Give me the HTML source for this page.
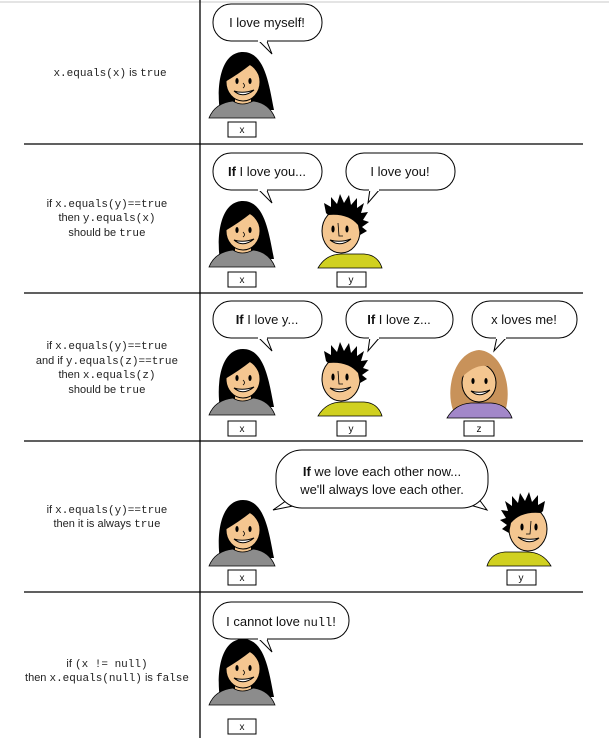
<!DOCTYPE html>
<html><head><meta charset="utf-8"><style>
html,body{margin:0;padding:0;background:#fff}
svg{display:block}
.t{font-family:"Liberation Sans",sans-serif;font-size:11px;fill:#222}
.m{font-family:"Liberation Mono",monospace;font-size:11px;fill:#222}
.b{font-family:"Liberation Sans",sans-serif;font-size:13px;fill:#111}
.lb{font-family:"Liberation Sans",sans-serif;font-size:10px;fill:#111}
</style></head><body>
<svg width="609" height="745" viewBox="0 0 609 745" xmlns="http://www.w3.org/2000/svg">
<defs>
<g id="girl">
 <path d="M11,62 C7,35 12,2 34,2 C56,2 60,35 65,60 L50,60 Z" fill="#000"/>
 <path d="M26,44 L26,55 Q33,58 42,54 L42,44 Z" fill="#f4c690"/>
 <path d="M0,68 Q6,53 24,51 Q33,57 44,51 Q60,53 66,68 Z" fill="#8c8c8c" stroke="#000" stroke-width=".8"/>
 <ellipse cx="34" cy="32" rx="17" ry="19" fill="#f4c690" stroke="#000"/>
 <path d="M15,32 Q15,6 34,5 Q53,6 53,32 Q47,18 41,15 Q31,23 16,32 Z" fill="#000"/>
 <ellipse cx="28" cy="31" rx="1.6" ry="3" fill="#000"/><ellipse cx="41" cy="31" rx="1.6" ry="3" fill="#000"/>
 <path d="M34,33 Q37,36 34,38" fill="none" stroke="#000" stroke-width=".8"/>
 <path d="M25,41 Q34,49 45,40 Q34,44 25,41 Z" fill="#fff" stroke="#000"/>
</g>
<g id="boy">
 <path d="M0,75 Q8,61 24,61 L46,61 Q60,62 64,75 Z" fill="#d0d020" stroke="#000" stroke-width=".8"/>
 <ellipse cx="23" cy="38" rx="19" ry="22" fill="#f4c690" stroke="#000"/>
 <path d="M8,20 L6,10 L13,14 L13,4 L19,11 L22,1 L26,10 L31,2 L33,12 L39,5 L39,15 L46,10 L43,20 L50,19 L45,27 L51,29 L44,34 L49,38 L42,42 L40,32 Q30,20 10,22 Z" fill="#000"/>
 <ellipse cx="15" cy="36" rx="1.6" ry="3.5" fill="#000"/><ellipse cx="29" cy="36" rx="1.6" ry="3.5" fill="#000"/>
 <path d="M20,30 L21,43 L25,43" fill="none" stroke="#000" stroke-width=".8"/>
 <path d="M12,47 Q22,55 33,46 Q22,50 12,47 Z" fill="#fff" stroke="#000"/>
</g>
<g id="woman">
 <path d="M6,62 C-2,40 8,4 32,2 C56,4 66,40 58,64 L40,60 Z" fill="#c8925a"/>
 <path d="M0,70 Q8,56 24,55 L44,55 Q60,56 65,70 Z" fill="#a287c9" stroke="#000" stroke-width=".8"/>
 <ellipse cx="32" cy="35" rx="17" ry="19" fill="#f4c690" stroke="#000"/>
 <path d="M14,30 Q16,8 32,8 Q48,8 50,30 Q46,18 40,18 Q28,16 14,30 Z" fill="#c8925a"/>
 <ellipse cx="26" cy="33" rx="1.6" ry="3" fill="#000"/><ellipse cx="39" cy="33" rx="1.6" ry="3" fill="#000"/>
 <path d="M24,43 Q33,51 43,42 Q33,46 24,43 Z" fill="#fff" stroke="#000"/>
</g>
</defs>

<!-- grid -->
<line x1="0" y1="2" x2="609" y2="2" stroke="#e4e4e4" stroke-width="2"/>
<line x1="200" y1="0" x2="200" y2="738" stroke="#000" stroke-width="1.3"/>
<g stroke="#000" stroke-width="1.3">
<line x1="24" y1="144" x2="583" y2="144"/>
<line x1="24" y1="293" x2="583" y2="293"/>
<line x1="24" y1="441" x2="583" y2="441"/>
<line x1="24" y1="592" x2="583" y2="592"/>
</g>

<!-- left text -->
<text x="110" y="76" text-anchor="middle"><tspan class="m">x.equals(x)</tspan><tspan class="t"> is </tspan><tspan class="m">true</tspan></text>
<text x="107" y="207" text-anchor="middle"><tspan class="t">if </tspan><tspan class="m">x.equals(y)==true</tspan></text>
<text x="107" y="221" text-anchor="middle"><tspan class="t">then </tspan><tspan class="m">y.equals(x)</tspan></text>
<text x="107" y="236" text-anchor="middle"><tspan class="t">should be </tspan><tspan class="m">true</tspan></text>
<text x="107" y="349" text-anchor="middle"><tspan class="t">if </tspan><tspan class="m">x.equals(y)==true</tspan></text>
<text x="107" y="364" text-anchor="middle"><tspan class="t">and if </tspan><tspan class="m">y.equals(z)==true</tspan></text>
<text x="107" y="378" text-anchor="middle"><tspan class="t">then </tspan><tspan class="m">x.equals(z)</tspan></text>
<text x="107" y="393" text-anchor="middle"><tspan class="t">should be </tspan><tspan class="m">true</tspan></text>
<text x="107" y="513" text-anchor="middle"><tspan class="t">if </tspan><tspan class="m">x.equals(y)==true</tspan></text>
<text x="107" y="527" text-anchor="middle"><tspan class="t">then it is always </tspan><tspan class="m">true</tspan></text>
<text x="107" y="667" text-anchor="middle"><tspan class="t">if </tspan><tspan class="m">(x != null)</tspan></text>
<text x="107" y="681" text-anchor="middle"><tspan class="t">then </tspan><tspan class="m">x.equals(null)</tspan><tspan class="t"> is </tspan><tspan class="m">false</tspan></text>

<!-- bubbles -->
<g fill="#fff" stroke="#000" stroke-width="1">
<path d="M258,40 L272,54 L266,39"/>
<rect x="213" y="4" width="109" height="37" rx="18"/>
<path d="M258,189 L272,203 L266,188"/>
<rect x="213" y="153" width="109" height="37" rx="18"/>
<path d="M370,189 L368,203 L380,189"/>
<rect x="346" y="153" width="109" height="37" rx="18"/>
<path d="M258,337 L272,351 L266,336"/>
<rect x="213" y="301" width="109" height="37" rx="18"/>
<path d="M370,337 L368,351 L380,337"/>
<rect x="346" y="301" width="107" height="37" rx="18"/>
<path d="M497,337 L494,351 L507,337"/>
<rect x="472" y="301" width="105" height="37" rx="18"/>
<path d="M290,498 L273,510 L298,505 M470,505 L487,510 L478,498"/>
<rect x="276" y="450" width="212" height="58" rx="26"/>
<path d="M258,638 L272,652 L266,637"/>
<rect x="213" y="602" width="136" height="37" rx="18"/>
</g>
<g fill="#fff"><rect x="258" y="36" width="9" height="6"/><rect x="258" y="185" width="9" height="6"/><rect x="369" y="185" width="10" height="6"/><rect x="258" y="333" width="9" height="6"/><rect x="369" y="333" width="10" height="6"/><rect x="496" y="333" width="10" height="6"/><rect x="258" y="634" width="9" height="6"/></g>

<text class="b" x="267" y="27" text-anchor="middle">I love myself!</text>
<text class="b" x="267" y="176" text-anchor="middle"><tspan font-weight="bold">If</tspan> I love you...</text>
<text class="b" x="400" y="176" text-anchor="middle">I love you!</text>
<text class="b" x="267" y="324" text-anchor="middle"><tspan font-weight="bold">If</tspan>  I love y...</text>
<text class="b" x="399" y="324" text-anchor="middle"><tspan font-weight="bold">If</tspan> I love z...</text>
<text class="b" x="524" y="324" text-anchor="middle">x loves me!</text>
<text class="b" x="382" y="476" text-anchor="middle"><tspan font-weight="bold">If</tspan> we love each other now...</text>
<text class="b" x="382" y="494" text-anchor="middle">we'll always love each other.</text>
<text class="b" x="281" y="626" text-anchor="middle">I cannot love <tspan font-family="Liberation Mono" font-size="12">null</tspan>!</text>

<!-- characters -->
<use href="#girl" x="209" y="50"/>
<use href="#girl" x="209" y="199"/>
<use href="#boy" x="318" y="193"/>
<use href="#girl" x="209" y="347"/>
<use href="#boy" x="318" y="341"/>
<use href="#woman" x="447" y="348"/>
<use href="#girl" x="209" y="498"/>
<use href="#boy" transform="translate(551,491) scale(-1,1)"/>
<use href="#girl" x="209" y="637"/>

<!-- labels -->
<g fill="#fff" stroke="#000" stroke-width="1">
<rect x="228" y="122" width="28" height="15"/>
<rect x="228" y="272" width="28" height="15"/>
<rect x="337" y="272" width="29" height="15"/>
<rect x="228" y="421" width="28" height="15"/>
<rect x="337" y="421" width="29" height="15"/>
<rect x="464" y="421" width="30" height="15"/>
<rect x="228" y="570" width="28" height="15"/>
<rect x="507" y="570" width="29" height="15"/>
<rect x="228" y="719" width="28" height="15"/>
</g>
<g class="lb" text-anchor="middle">
<text x="242" y="133">x</text>
<text x="242" y="283">x</text><text x="351" y="283">y</text>
<text x="242" y="432">x</text><text x="351" y="432">y</text><text x="479" y="432">z</text>
<text x="242" y="581">x</text><text x="521" y="581">y</text>
<text x="242" y="730">x</text>
</g>
</svg>
</body></html>
